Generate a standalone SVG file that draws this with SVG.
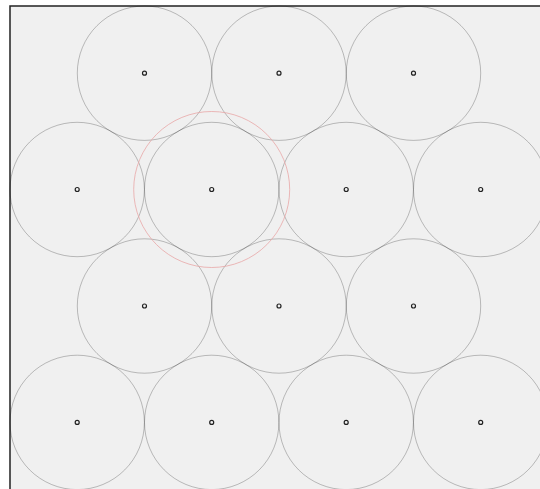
<svg xmlns="http://www.w3.org/2000/svg" width="540" height="489" viewBox="0 0 540 489">
<style>
.c{fill:none;stroke:#000;stroke-opacity:0.24;stroke-width:1}
.d{fill:#f0f0f0;stroke:#222;stroke-width:1.2}
.r{fill:none;stroke:#e8a8a8;stroke-opacity:0.8;stroke-width:1}
</style>
<rect x="0" y="0" width="540" height="489" fill="#fff"/>
<rect x="10" y="6" width="540" height="500" fill="#f0f0f0" stroke="#222" stroke-width="1.5"/>
<g id="circles">
<g id="n1"><circle class="c" cx="144.5" cy="73.2" r="67.2"/><circle class="d" cx="144.5" cy="73.2" r="2"/></g>
<g id="n2"><circle class="c" cx="279" cy="73.2" r="67.2"/><circle class="d" cx="279" cy="73.2" r="2"/></g>
<g id="n3"><circle class="c" cx="413.5" cy="73.2" r="67.2"/><circle class="d" cx="413.5" cy="73.2" r="2"/></g>
<g id="n4"><circle class="c" cx="77.2" cy="189.5" r="67.2"/><circle class="d" cx="77.2" cy="189.5" r="2"/></g>
<g id="n5"><circle class="c" cx="211.7" cy="189.5" r="67.2"/><circle class="d" cx="211.7" cy="189.5" r="2"/></g>
<g id="n6"><circle class="c" cx="346.2" cy="189.5" r="67.2"/><circle class="d" cx="346.2" cy="189.5" r="2"/></g>
<g id="n7"><circle class="c" cx="480.7" cy="189.5" r="67.2"/><circle class="d" cx="480.7" cy="189.5" r="2"/></g>
<g id="n8"><circle class="c" cx="144.5" cy="306" r="67.2"/><circle class="d" cx="144.5" cy="306" r="2"/></g>
<g id="n9"><circle class="c" cx="279" cy="306" r="67.2"/><circle class="d" cx="279" cy="306" r="2"/></g>
<g id="n10"><circle class="c" cx="413.5" cy="306" r="67.2"/><circle class="d" cx="413.5" cy="306" r="2"/></g>
<g id="n11"><circle class="c" cx="77.2" cy="422.4" r="67.2"/><circle class="d" cx="77.2" cy="422.4" r="2"/></g>
<g id="n12"><circle class="c" cx="211.7" cy="422.4" r="67.2"/><circle class="d" cx="211.7" cy="422.4" r="2"/></g>
<g id="n13"><circle class="c" cx="346.2" cy="422.4" r="67.2"/><circle class="d" cx="346.2" cy="422.4" r="2"/></g>
<g id="n14"><circle class="c" cx="480.7" cy="422.4" r="67.2"/><circle class="d" cx="480.7" cy="422.4" r="2"/></g>
</g>
<g id="highlight"><circle class="r" cx="211.7" cy="189.5" r="78"/></g>
<g id="connectors"></g>
</svg>
